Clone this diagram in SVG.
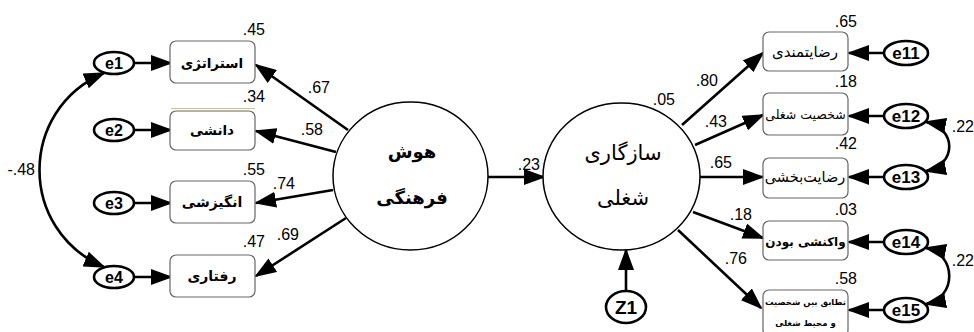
<svg xmlns="http://www.w3.org/2000/svg" width="974" height="332" viewBox="0 0 974 332">
  <style>
    .num { font-family: "Liberation Sans", Arial, sans-serif; font-size: 16px; fill: #000; text-anchor: end; }
    .fa { font-family: "DejaVu Sans", "Noto Sans", sans-serif; fill: #000; text-anchor: middle; }
    .box { fill: #fff; stroke: #666; stroke-width: 1.2; }
    .err { fill: #fff; stroke: #000; stroke-width: 2.6; }
    .errtxt { font-family: "Liberation Sans", Arial, sans-serif; font-weight: bold; fill: #000; text-anchor: middle; }
    .lat { fill: #fff; stroke: #000; stroke-width: 1.5; }
    .path { stroke: #000; stroke-width: 2.6; fill: none; marker-end: url(#ah); }
    .cov { stroke: #000; stroke-width: 2.6; fill: none; marker-start: url(#ah); marker-end: url(#ah); }
  </style>
  <defs>
    <marker id="ah" markerUnits="userSpaceOnUse" markerWidth="22" markerHeight="16" viewBox="0 0 22 16" refX="20" refY="8" orient="auto-start-reverse">
      <path d="M0,0 L22,8 L0,16 z" fill="#000"/>
    </marker>
  </defs>

  <rect width="974" height="332" fill="#fff"/>

  <!-- connectors -->
  <g id="connectors">
    <!-- errors to left indicators -->
    <line class="path" x1="134" y1="63" x2="171" y2="63"/>
    <line class="path" x1="134" y1="130" x2="171" y2="130"/>
    <line class="path" x1="134" y1="203" x2="171" y2="203"/>
    <line class="path" x1="134" y1="277" x2="171" y2="277"/>
    <!-- cultural intelligence to indicators -->
    <line class="path" x1="348" y1="130" x2="256" y2="65"/>
    <line class="path" x1="336" y1="152" x2="256" y2="131"/>
    <line class="path" x1="333" y1="190" x2="256" y2="203"/>
    <line class="path" x1="346" y1="218" x2="256" y2="276"/>
    <!-- latent to latent -->
    <line class="path" x1="488" y1="177" x2="544" y2="177"/>
    <!-- disturbance -->
    <line class="path" x1="626" y1="291" x2="626" y2="250"/>
    <!-- job adjustment to indicators -->
    <line class="path" x1="682" y1="125" x2="763" y2="53"/>
    <line class="path" x1="695" y1="145" x2="763" y2="115"/>
    <line class="path" x1="700" y1="177" x2="763" y2="177"/>
    <line class="path" x1="693" y1="212" x2="763" y2="238"/>
    <line class="path" x1="678" y1="230" x2="761" y2="308"/>
    <!-- errors to right indicators -->
    <line class="path" x1="884" y1="53" x2="849" y2="53"/>
    <line class="path" x1="884" y1="116" x2="849" y2="116"/>
    <line class="path" x1="884" y1="177" x2="849" y2="177"/>
    <line class="path" x1="884" y1="242" x2="849" y2="242"/>
    <line class="path" x1="884" y1="310" x2="849" y2="310"/>
    <!-- covariances -->
    <path class="cov" d="M104,73 C18,110 18,230 104,267"/>
    <path class="cov" d="M926,122 C957,128 957,165 926,171"/>
    <path class="cov" d="M926,248 C957,254 957,298 926,304"/>
  </g>

  <!-- faint rule above the second indicator -->
  <line x1="171" y1="108.5" x2="255" y2="108.5" stroke="#c9c39a" stroke-width="1"/>

  <!-- left error terms -->
  <g id="e1"><ellipse class="err" cx="114" cy="63" rx="20" ry="11"/><text class="errtxt" x="114" y="69" font-size="16">e1</text></g>
  <g id="e2"><ellipse class="err" cx="114" cy="130" rx="20" ry="11"/><text class="errtxt" x="114" y="136" font-size="16">e2</text></g>
  <g id="e3"><ellipse class="err" cx="114" cy="203" rx="20" ry="11"/><text class="errtxt" x="114" y="209" font-size="16">e3</text></g>
  <g id="e4"><ellipse class="err" cx="114" cy="277" rx="20" ry="11"/><text class="errtxt" x="114" y="283" font-size="16">e4</text></g>

  <!-- left indicators -->
  <g id="strategy"><rect class="box" x="170" y="41" width="85" height="42" rx="6"/><text class="fa" x="212" y="68" font-size="13.5" font-weight="bold">استراتژی</text></g>
  <g id="knowledge"><rect class="box" x="170" y="111" width="85" height="39" rx="6"/><text class="fa" x="212" y="135" font-size="13.5" font-weight="bold">دانشی</text></g>
  <g id="motivation"><rect class="box" x="170" y="181" width="85" height="42" rx="6"/><text class="fa" x="212" y="207" font-size="14" font-weight="bold">انگیزشی</text></g>
  <g id="behavior"><rect class="box" x="170" y="255" width="85" height="42" rx="6"/><text class="fa" x="212" y="281" font-size="14" font-weight="bold">رفتاری</text></g>

  <!-- latent variables -->
  <g id="cultural-intelligence">
    <ellipse class="lat" cx="410.5" cy="176" rx="77.5" ry="74"/>
    <text class="fa" x="412" y="158" font-size="18" font-weight="bold">هوش</text>
    <text class="fa" x="412" y="204" font-size="18" font-weight="bold">فرهنگی</text>
  </g>
  <g id="job-adjustment">
    <ellipse class="lat" cx="621.5" cy="176.5" rx="78.5" ry="73.5"/>
    <text class="fa" x="623" y="160" font-size="21">سازگاری</text>
    <text class="fa" x="623" y="205" font-size="21">شغلی</text>
  </g>
  <g id="z1"><ellipse class="err" cx="626" cy="307" rx="20" ry="16"/><text class="errtxt" x="626" y="314" font-size="19">Z1</text></g>

  <!-- right indicators -->
  <g id="satisfaction"><rect class="box" x="763" y="32" width="85" height="39" rx="6"/><text class="fa" x="805" y="57" font-size="15">رضایتمندی</text></g>
  <g id="job-personality"><rect class="box" x="763" y="93" width="85" height="42" rx="6"/><text class="fa" x="805.5" y="119" font-size="12.5">شخصیت شغلی</text></g>
  <g id="satisfactoriness"><rect class="box" x="763" y="158" width="85" height="40" rx="6"/><text class="fa" x="805" y="182" font-size="14.5">رضایت‌بخشی</text></g>
  <g id="reactiveness"><rect class="box" x="763" y="221" width="85" height="39" rx="6"/><text class="fa" x="805.5" y="246" font-size="12" font-weight="bold">واکنشی بودن</text></g>
  <g id="person-environment-fit"><rect class="box" x="763" y="290" width="85" height="46" rx="6"/><text class="fa" x="805.5" y="305" font-size="8.5" font-weight="bold">تطابق بین شخصیت</text><text class="fa" x="805.5" y="326" font-size="8.5" font-weight="bold">و محیط شغلی</text></g>

  <!-- right error terms -->
  <g id="e11"><ellipse class="err" cx="906" cy="53" rx="22" ry="12"/><text class="errtxt" x="906" y="59" font-size="17">e11</text></g>
  <g id="e12"><ellipse class="err" cx="906" cy="116" rx="22" ry="12"/><text class="errtxt" x="906" y="122" font-size="17">e12</text></g>
  <g id="e13"><ellipse class="err" cx="906" cy="177" rx="22" ry="12"/><text class="errtxt" x="906" y="183" font-size="17">e13</text></g>
  <g id="e14"><ellipse class="err" cx="906" cy="242" rx="22" ry="12"/><text class="errtxt" x="906" y="248" font-size="17">e14</text></g>
  <g id="e15"><ellipse class="err" cx="906" cy="310" rx="22" ry="12"/><text class="errtxt" x="906" y="316" font-size="17">e15</text></g>

  <!-- coefficients -->
  <g id="labels">
    <text class="num" x="265" y="35">.45</text>
    <text class="num" x="265" y="102">.34</text>
    <text class="num" x="265" y="175">.55</text>
    <text class="num" x="265" y="247">.47</text>
    <text class="num" x="330" y="93">.67</text>
    <text class="num" x="323" y="135">.58</text>
    <text class="num" x="295" y="189">.74</text>
    <text class="num" x="299" y="240">.69</text>
    <text class="num" x="35" y="175">-.48</text>
    <text class="num" x="540" y="170">.23</text>
    <text class="num" x="675" y="105">.05</text>
    <text class="num" x="718" y="86">.80</text>
    <text class="num" x="727" y="127">.43</text>
    <text class="num" x="732" y="168">.65</text>
    <text class="num" x="752" y="220">.18</text>
    <text class="num" x="747" y="264">.76</text>
    <text class="num" x="857" y="27">.65</text>
    <text class="num" x="857" y="87">.18</text>
    <text class="num" x="857" y="149">.42</text>
    <text class="num" x="857" y="215">.03</text>
    <text class="num" x="857" y="284">.58</text>
    <text class="num" x="974" y="132">.22</text>
    <text class="num" x="974" y="266">.22</text>
  </g>
</svg>
